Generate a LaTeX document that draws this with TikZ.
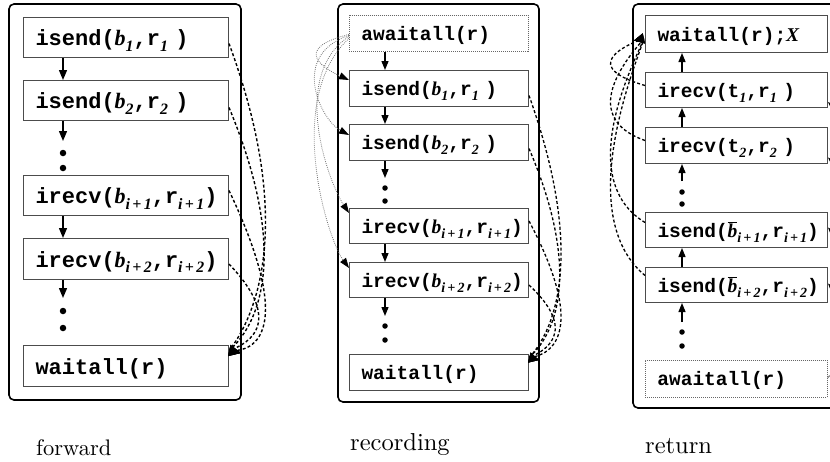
\documentclass[tikz,border=0pt]{standalone}
\usepackage{fontspec}
\usetikzlibrary{arrows.meta,calc}
\newfontfamily\monof{Liberation Mono}
\newfontfamily\tmsf{Liberation Serif}
\makeatletter
\newcommand\vb[1]{{\tmsf\itshape #1}}
\newcommand\vs[1]{\raisebox{-0.27em}{\fontsize{\strip@pt\dimexpr0.72\dimexpr\f@size pt\relax\relax}{10}\selectfont\tmsf\itshape #1}}
\makeatother
\newcommand\ipo{i\kern0.15em+\kern0.15em1}
\newcommand\ipt{i\kern0.15em+\kern0.15em2}
\newcommand\vbb{\ensuremath{\overline{\hbox{\tmsf\itshape b}}}}
\tikzset{
  panel/.style={draw=black, line width=1.6pt, rounded corners=5pt},
  boxbase/.style={anchor=north west, inner ysep=0pt, inner xsep=12pt, align=left, line width=1pt, draw=black!70},
  boxL/.style={boxbase, text width=181pt, font=\monof\bfseries\fontsize{22}{24}\selectfont, text height=17pt, text depth=1pt},
  boxM/.style={boxbase, text width=155pt, font=\monof\bfseries\fontsize{19.5}{22}\selectfont, text height=15pt, text depth=1pt},
  boxR/.style={boxM, text width=158pt},
  dotbox/.style={draw=black!60, dash pattern=on 1pt off 1pt, line width=0.8pt},
  flowL/.style={line width=1.4pt, -{Triangle[length=10pt,width=8pt]}},
  flowM/.style={line width=1.3pt, -{Triangle[length=9pt,width=7pt]}},
  dotn/.style={circle, fill=black, inner sep=0pt, minimum size=6.5pt},
  dotm/.style={dotn, minimum size=5.5pt},
  dconnL/.style={line width=1.4pt, dash pattern=on 3pt off 2.2pt, -{Triangle[length=12pt,width=11pt]}},
  dconnM/.style={line width=1.3pt, dash pattern=on 3pt off 2.2pt, -{Triangle[length=10pt,width=10pt]}},
  gconn/.style={draw=black!55, line width=0.8pt, dash pattern=on 0.8pt off 1.2pt, -{Triangle[length=10pt,width=7pt,color=black]}},
  lab/.style={anchor=base west, inner sep=0pt}
}
\begin{document}
\begin{tikzpicture}[x=1pt,y=-1pt]
\useasboundingbox (0,0) rectangle (830,461);

% panels
\draw[panel] (9,4) rectangle (241,400);
\draw[panel] (338,4) rectangle (539,402);
\draw[panel] (633,4) rectangle (838,408);

% ---------- forward ----------
\node[boxL, minimum height=40pt] (L1) at (23,17) {isend(\vb{b}\vs{1},r\vs{1} )};
\node[boxL, minimum height=40pt] (L2) at (23,80) {isend(\vb{b}\vs{2},r\vs{2} )};
\node[boxL, minimum height=40pt] (L3) at (23,175) {irecv(\vb{b}\vs{\ipo},r\vs{\ipo})};
\node[boxL, minimum height=41pt] (L4) at (23,238) {irecv(\vb{b}\vs{\ipt},r\vs{\ipt})};
\node[boxL, minimum height=41pt] (L5) at (23,345) {waitall(r)};
\coordinate (Lx) at (63,0);
\coordinate (La1) at (63,141);
\coordinate (La2) at (63,298);
\node[dotn] (Ld1) at (63,153) {};
\node[dotn] (Ld2) at (63,168) {};
\node[dotn] (Ld3) at (63,311) {};
\node[dotn] (Ld4) at (63,328) {};
\draw[flowL] (Lx |- L1.south) -- (Lx |- L2.north);
\draw[flowL] (Lx |- L2.south) -- (La1);
\draw[flowL] (Lx |- L3.south) -- (Lx |- L4.north);
\draw[flowL] (Lx |- L4.south) -- (La2);
\coordinate (LE) at ([xshift=12pt,yshift=-8pt]L5.north east);
\draw[dconnL] ([yshift=-6pt]L1.east) .. controls +(83,225) and +(-14,-3) .. (LE);
\draw[dconnL] ([yshift=-7pt]L2.east) .. controls +(80,192) and +(-14,-3) .. (LE);
\draw[dconnL] ([yshift=5pt]L3.east) .. controls +(83,175) and +(-14,-3) .. (LE);
\draw[dconnL] ([yshift=-5pt]L4.east) .. controls +(68,71) and +(-14,-3) .. (LE);

% ---------- recording ----------
\node[boxM, dotbox, minimum height=36pt] (M0) at (349,15) {awaitall(r)};
\node[boxM, minimum height=36pt] (M1) at (349,70) {isend(\vb{b}\vs{1},r\vs{1} )};
\node[boxM, minimum height=36pt] (M2) at (349,124) {isend(\vb{b}\vs{2},r\vs{2} )};
\node[boxM, minimum height=35pt] (M3) at (349,208) {irecv(\vb{b}\vs{\ipo},r\vs{\ipo})};
\node[boxM, minimum height=35pt] (M4) at (349,262) {irecv(\vb{b}\vs{\ipt},r\vs{\ipt})};
\node[boxM, minimum height=36pt] (M5) at (349,354) {waitall(r)};
\coordinate (Mx) at (385,0);
\coordinate (Ma1) at (385,178);
\coordinate (Ma2) at (385,316);
\node[dotm] (Md1) at (385,188) {};
\node[dotm] (Md2) at (385,201) {};
\node[dotm] (Md3) at (385,326) {};
\node[dotm] (Md4) at (385,340) {};
\draw[flowM] (Mx |- M0.south) -- (Mx |- M1.north);
\draw[flowM] (Mx |- M1.south) -- (Mx |- M2.north);
\draw[flowM] (Mx |- M2.south) -- (Ma1);
\draw[flowM] (Mx |- M3.south) -- (Mx |- M4.north);
\draw[flowM] (Mx |- M4.south) -- (Ma2);
\coordinate (ME) at ([xshift=10pt,yshift=-6pt]M5.north east);
\draw[dconnM] ([yshift=-7pt]M1.east) .. controls +(73,205) and +(-12,-3) .. (ME);
\draw[dconnM] ([yshift=-6pt]M2.east) .. controls +(70,164) and +(-12,-3) .. (ME);
\draw[dconnM] ([yshift=5pt]M3.east) .. controls +(73,138) and +(-12,-3) .. (ME);
\draw[dconnM] ([yshift=-5pt]M4.east) .. controls +(60,56) and +(-12,-3) .. (ME);
% dotted from awaitall
\draw[gconn] ([yshift=-1pt]M0.west) .. controls +(-60,15) and +(-22,-10) .. ([yshift=-10pt]M1.north west);
\draw[gconn] ([yshift=-2pt]M0.west) .. controls +(-60,20) and +(-28,-15) .. ([yshift=-11pt]M2.north west);
\draw[gconn] ([yshift=-3pt]M0.west) .. controls +(-60,40) and +(-20,-30) .. ([yshift=-5pt]M3.north west);
\draw[gconn] ([yshift=-5pt]M0.west) .. controls +(-65,60) and +(-22,-30) .. ([yshift=-6pt]M4.north west);

% ---------- return ----------
\node[boxR, minimum height=37pt] (R0) at (645,15) {waitall(r);\vb{X}};
\node[boxR, minimum height=35pt] (R1) at (645,72) {irecv(t\vs{1},r\vs{1} )};
\node[boxR, minimum height=36pt] (R2) at (645,127) {irecv(t\vs{2},r\vs{2} )};
\node[boxR, minimum height=35pt] (R3) at (645,212) {isend(\vbb\vs{\ipo},r\vs{\ipo})};
\node[boxR, minimum height=35pt] (R4) at (645,267) {isend(\vbb\vs{\ipt},r\vs{\ipt})};
\node[boxR, dotbox, minimum height=37pt] (R5) at (645,360) {awaitall(r)};
\coordinate (Rx) at (682,0);
\coordinate (Ra1) at (682,181);
\coordinate (Ra2) at (682,322);
\node[dotm] (Rd1) at (682,192) {};
\node[dotm] (Rd2) at (682,204) {};
\node[dotm] (Rd3) at (682,332) {};
\node[dotm] (Rd4) at (682,346) {};
\draw[flowM] (Rx |- R1.north) -- (Rx |- R0.south);
\draw[flowM] (Rx |- R2.north) -- (Rx |- R1.south);
\draw[flowM] (Ra1) -- (Rx |- R2.south);
\draw[flowM] (Rx |- R4.north) -- (Rx |- R3.south);
\draw[flowM] (Ra2) -- (Rx |- R4.south);
\coordinate (RE) at ([xshift=-11pt,yshift=-6.5pt]R0.west);
\draw[dconnM] ([yshift=4.5pt]R1.west) .. controls +(-79,-23) and +(14,-3) .. (RE);
\draw[dconnM] ([yshift=5pt]R2.west) .. controls +(-79,-28) and +(14,-3) .. (RE);
\draw[dconnM] ([yshift=7.5pt]R3.west) .. controls +(-79,-48) and +(14,-3) .. (RE);
\draw[dconnM] ([yshift=9.5pt]R4.west) .. controls +(-79,-66) and +(14,-3) .. (RE);
% dotted from awaitall (right side, mostly outside the frame)
\draw[gconn] ([yshift=2.5pt]R5.east) .. controls +(60,-20) and +(25,25) .. ([yshift=-12pt]R1.east);
\draw[gconn] ([yshift=2pt]R5.east) .. controls +(60,-25) and +(25,25) .. ([yshift=-12pt]R2.east);
\draw[gconn] ([yshift=1.5pt]R5.east) .. controls +(55,-30) and +(22,25) .. ([yshift=2.5pt]R3.east);
\draw[gconn] ([yshift=1pt]R5.east) .. controls +(50,-30) and +(22,25) .. ([yshift=1.5pt]R4.east);

% labels
\node[lab] (lf) at (36,455) {\scalebox{2.25}{\fontsize{10}{12}\selectfont forward}};
\node[lab] (lr) at (350,450) {\scalebox{2.45}{\fontsize{10}{12}\selectfont recording}};
\node[lab] (lt) at (645,453) {\scalebox{2.45}{\fontsize{10}{12}\selectfont return}};
\end{tikzpicture}
\end{document}
